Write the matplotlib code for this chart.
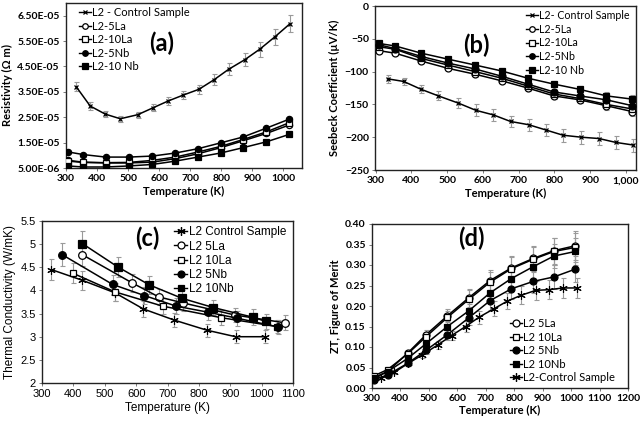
import matplotlib
matplotlib.use("Agg")
import matplotlib.pyplot as plt
from matplotlib.lines import Line2D

# ---------------- Panel (a): Resistivity (x 1e-5 Ohm m) ----------------
T_ctrl = [333, 378, 427, 475, 531, 580, 629, 677, 728, 776, 824, 875, 924, 972, 1021]
T_dop = [308, 355, 428, 502, 578, 652, 725, 798, 870, 945, 1018]

rho_ctrl = [3.70, 2.94, 2.62, 2.44, 2.60, 2.87, 3.14, 3.37, 3.60, 3.97, 4.39, 4.76, 5.18, 5.66, 6.18]
rho_ctrl_err = [0.18, 0.15, 0.12, 0.12, 0.12, 0.14, 0.15, 0.17, 0.18, 0.22, 0.24, 0.26, 0.30, 0.32, 0.34]
rho_5la = [0.80, 0.73, 0.70, 0.70, 0.73, 0.87, 1.06, 1.30, 1.57, 1.86, 2.19]
rho_10la = [0.77, 0.72, 0.71, 0.72, 0.80, 0.93, 1.13, 1.35, 1.62, 1.92, 2.28]
rho_5nb = [1.13, 1.03, 0.93, 0.93, 0.97, 1.09, 1.26, 1.49, 1.72, 2.07, 2.42]
rho_10nb = [0.58, 0.54, 0.54, 0.58, 0.64, 0.77, 0.93, 1.09, 1.30, 1.53, 1.82]
rho_dop_err = [0.05, 0.05, 0.05, 0.05, 0.05, 0.05, 0.05, 0.05, 0.06, 0.06, 0.07]
rho_yticks = [0.5, 1.5, 2.5, 3.5, 4.5, 5.5, 6.5]
rho_yticklabels = ["5.00E-06", "1.50E-05", "2.50E-05", "3.50E-05", "4.50E-05", "5.50E-05", "6.50E-05"]
a_labels = ["L2 - Control Sample", "L2-5La", "L2-10La", "L2-5Nb", "L2-10 Nb"]

# ---------------- Panel (b): Seebeck coefficient (uV/K) ----------------
S_ctrl = [-111, -115, -127, -137, -148, -159, -166, -176, -181, -189, -197, -200, -202, -208, -212]
S_ctrl_err = [6, 6, 6, 7, 8, 9, 9, 9, 9, 9, 10, 10, 10, 10, 10]
S_5la = [-68, -72, -84, -95, -104, -114, -125, -137, -143, -152, -161]
S_10la = [-62, -66, -80, -90, -100, -110, -122, -134, -141, -150, -157]
S_5nb = [-59, -65, -77, -87, -96, -107, -119, -131, -137, -143, -152]
S_10nb = [-57, -61, -72, -81, -90, -99, -110, -119, -127, -137, -142]
S_dop_err = [3, 3, 3, 3, 4, 4, 4, 5, 5, 6, 6]
b_xticks = [300, 400, 500, 600, 700, 800, 900, 1000]
b_xticklabels = ["300", "400", "500", "600", "700", "800", "900", "1,000"]
b_labels = ["L2- Control Sample", "L2-5La", "L2-10La", "L2-5Nb", "L2-10 Nb"]

# ---------------- Panel (c): Thermal conductivity (W/mK) ----------------
Tc_ctrl = [330, 428, 532, 623, 721, 826, 917, 1012]
k_ctrl = [4.45, 4.22, 3.95, 3.60, 3.36, 3.14, 3.00, 3.00]
k_ctrl_err = [0.22, 0.20, 0.18, 0.18, 0.15, 0.14, 0.14, 0.14]
Tc_5la = [429, 588, 672, 750, 914, 1074]
k_5la = [4.77, 4.16, 3.86, 3.73, 3.47, 3.30]
k_5la_err = [0.25, 0.20, 0.18, 0.17, 0.16, 0.16]
Tc_10la = [399, 532, 685, 872, 1050]
k_10la = [4.37, 3.97, 3.66, 3.41, 3.22]
k_10la_err = [0.22, 0.20, 0.17, 0.16, 0.15]
Tc_5nb = [365, 525, 626, 728, 829, 922, 1053]
k_5nb = [4.77, 4.13, 3.89, 3.66, 3.53, 3.40, 3.21]
k_5nb_err = [0.25, 0.20, 0.18, 0.17, 0.16, 0.16, 0.15]
Tc_10nb = [429, 541, 642, 746, 846, 973, 1013]
k_10nb = [5.01, 4.51, 4.12, 3.83, 3.63, 3.42, 3.33]
k_10nb_err = [0.27, 0.22, 0.20, 0.18, 0.17, 0.17, 0.17]
c_labels = ["L2 Control Sample", "L2 5La", "L2 10La", "L2 5Nb", "L2 10Nb"]

# ---------------- Panel (d): ZT ----------------
Td = [308, 355, 425, 490, 565, 640, 715, 790, 867, 940, 1015]
zt_5la = [0.025, 0.040, 0.085, 0.130, 0.176, 0.220, 0.262, 0.293, 0.316, 0.335, 0.347]
zt_10la = [0.030, 0.045, 0.083, 0.125, 0.172, 0.216, 0.258, 0.291, 0.314, 0.333, 0.343]
zt_la_err = [0.004, 0.006, 0.008, 0.012, 0.016, 0.022, 0.026, 0.028, 0.030, 0.032, 0.035]
zt_5nb = [0.020, 0.032, 0.060, 0.092, 0.130, 0.171, 0.213, 0.242, 0.260, 0.271, 0.290]
zt_10nb = [0.025, 0.040, 0.072, 0.108, 0.150, 0.188, 0.232, 0.267, 0.296, 0.322, 0.333]
zt_nb_err = [0.004, 0.005, 0.007, 0.010, 0.014, 0.018, 0.022, 0.025, 0.028, 0.030, 0.032]
zt_ctrl = [0.025, 0.038, 0.060, 0.080, 0.105, 0.128, 0.150, 0.173, 0.193, 0.212, 0.226, 0.238, 0.240, 0.244, 0.244]
zt_ctrl_err = [0.004, 0.005, 0.006, 0.008, 0.010, 0.012, 0.014, 0.016, 0.018, 0.020, 0.022, 0.023, 0.024, 0.024, 0.025]
d_labels = ["L2 5La", "L2 10La", "L2 5Nb", "L2 10Nb", "L2-Control Sample"]

# ---------------- styling ----------------
BF = "Lato"             # Calibri-like
AF = "Liberation Sans"  # Arial-like
ECOL = "#9a9a9a"

fig = plt.figure(figsize=(6.41, 4.22), dpi=100)


def style(ax, family, bold, size=7.5):
    w = "bold" if bold else "normal"
    for s in ax.spines.values():
        s.set_color("#222222")
        s.set_linewidth(1.0)
    ax.tick_params(direction="out", length=2.5, width=0.6, color="#666666", labelsize=size, pad=2)
    for lab in ax.get_xticklabels() + ax.get_yticklabels():
        lab.set_fontfamily(family)
        lab.set_fontweight(w)
        lab.set_fontsize(size)


def series(ax, x, y, err, marker, face, ms, mew=0.9, lw=1.1):
    ax.errorbar(x, y, yerr=err, fmt="none", ecolor=ECOL, elinewidth=0.8, capsize=1.8, capthick=0.8, zorder=2)
    ax.plot(x, y, color="black", lw=lw, marker=marker, ms=ms, mfc=face, mec="black", mew=mew, zorder=3)


def handle(marker, face, ms):
    return Line2D([], [], color="black", lw=1.0, marker=marker, ms=ms, mfc=face, mec="black", mew=0.9)


star = (6, 2, 0)

# ---- (a)
axa = fig.add_axes([66 / 641, 1 - 168 / 422, 236 / 641, 165 / 422])
series(axa, T_ctrl, rho_ctrl, rho_ctrl_err, "x", "black", 3.5)
series(axa, T_dop, rho_5la, rho_dop_err, "o", "white", 4.5)
series(axa, T_dop, rho_10la, rho_dop_err, "s", "white", 4.5)
series(axa, T_dop, rho_5nb, rho_dop_err, "o", "black", 4.5)
series(axa, T_dop, rho_10nb, rho_dop_err, "s", "black", 4.5)
axa.set_xlim(300, 1060)
axa.set_ylim(0.5, 7.0)
axa.set_xticks([300, 400, 500, 600, 700, 800, 900, 1000])
axa.set_yticks(rho_yticks)
axa.set_yticklabels(rho_yticklabels)
style(axa, BF, True)
axa.set_xlabel("Temperature (K)", family=BF, weight="bold", fontsize=8, labelpad=2)
axa.set_ylabel("Resistivity (Ω m)", family=BF, weight="bold", fontsize=8, labelpad=3)
axa.text(0.405, 0.755, "(a)", transform=axa.transAxes, family=BF, weight="bold", fontsize=17, ha="center", va="center")
ha = [handle("x", "black", 3.5), handle("o", "white", 4), handle("s", "white", 4),
      handle("o", "black", 4), handle("s", "black", 4)]
axa.legend(ha, a_labels, loc="upper left", bbox_to_anchor=(0.025, 1.015), frameon=False,
           prop={"family": BF, "size": 8}, handlelength=1.1, handletextpad=0.1, labelspacing=0.22,
           borderaxespad=0.2)

# ---- (b)
axb = fig.add_axes([375 / 641, 1 - 170 / 422, 261 / 641, 164 / 422])
series(axb, T_ctrl, S_ctrl, S_ctrl_err, "x", "black", 3.5)
series(axb, T_dop, S_5la, S_dop_err, "o", "white", 5)
series(axb, T_dop, S_10la, S_dop_err, "s", "white", 5)
series(axb, T_dop, S_5nb, S_dop_err, "o", "black", 5)
series(axb, T_dop, S_10nb, S_dop_err, "s", "black", 5)
axb.set_xlim(298, 1028)
axb.set_ylim(-250, 0)
axb.set_xticks(b_xticks)
axb.set_xticklabels(b_xticklabels)
axb.set_yticks([-250, -200, -150, -100, -50, 0])
style(axb, BF, True)
axb.set_xlabel("Temperature (K)", family=BF, weight="bold", fontsize=8, labelpad=2)
axb.set_ylabel("Seebeck Coefficient (µV/K)", family=BF, weight="bold", fontsize=8, labelpad=3)
axb.text(0.39, 0.76, "(b)", transform=axb.transAxes, family=BF, weight="bold", fontsize=17, ha="center", va="center")
hb = [handle("x", "black", 3.5), handle("o", "white", 4), handle("s", "white", 4),
      handle("o", "black", 4), handle("s", "black", 4)]
axb.legend(hb, b_labels, loc="upper right", bbox_to_anchor=(1.0, 1.015), frameon=False,
           prop={"family": BF, "size": 7.7}, handlelength=1.1, handletextpad=0.1, labelspacing=0.25,
           borderaxespad=0.2)

# ---- (c)
axc = fig.add_axes([42 / 641, 1 - 383 / 422, 251 / 641, 162 / 422])
series(axc, Tc_ctrl, k_ctrl, k_ctrl_err, star, "black", 6, mew=0.8)
series(axc, Tc_5la, k_5la, k_5la_err, "o", "white", 5.5)
series(axc, Tc_10la, k_10la, k_10la_err, "s", "white", 5)
series(axc, Tc_5nb, k_5nb, k_5nb_err, "o", "black", 5.5)
series(axc, Tc_10nb, k_10nb, k_10nb_err, "s", "black", 5.5)
axc.set_xlim(300, 1100)
axc.set_ylim(2, 5.5)
axc.set_xticks(range(300, 1101, 100))
axc.set_yticks([2, 2.5, 3, 3.5, 4, 4.5, 5, 5.5])
axc.set_yticklabels(["2", "2.5", "3", "3.5", "4", "4.5", "5", "5.5"])
style(axc, AF, False, size=8)
axc.set_xlabel("Temperature (K)", family=AF, fontsize=8.5, labelpad=2)
axc.set_ylabel("Thermal Conductivity (W/mK)", family=AF, fontsize=8.5, labelpad=3)
axc.text(0.42, 0.895, "(c)", transform=axc.transAxes, family=BF, weight="bold", fontsize=17, ha="center", va="center")
hc = [handle(star, "black", 6), handle("o", "white", 5), handle("s", "white", 5),
      handle("o", "black", 5), handle("s", "black", 5)]
axc.legend(hc, c_labels, loc="upper right", bbox_to_anchor=(1.0, 1.01), frameon=False,
           prop={"family": AF, "size": 8.5}, handlelength=1.1, handletextpad=0.1, labelspacing=0.18,
           borderaxespad=0.2)

# ---- (d)
axd = fig.add_axes([372 / 641, 1 - 388 / 422, 256 / 641, 164 / 422])
series(axd, T_ctrl, zt_ctrl, zt_ctrl_err, star, "black", 6, mew=0.8)
series(axd, Td, zt_5la, zt_la_err, "o", "white", 5)
series(axd, Td, zt_10la, zt_la_err, "s", "white", 5)
series(axd, Td, zt_5nb, zt_nb_err, "o", "black", 5)
series(axd, Td, zt_10nb, zt_nb_err, "s", "black", 5)
axd.set_xlim(300, 1200)
axd.set_ylim(0, 0.4)
axd.set_xticks(range(300, 1201, 100))
axd.set_yticks([0, 0.05, 0.10, 0.15, 0.20, 0.25, 0.30, 0.35, 0.40])
axd.set_yticklabels(["0.00", "0.05", "0.10", "0.15", "0.20", "0.25", "0.30", "0.35", "0.40"])
style(axd, BF, True)
axd.set_xlabel("Temperature (K)", family=BF, weight="bold", fontsize=8, labelpad=1)
axd.set_ylabel("ZT, Figure of Merit", family=BF, weight="bold", fontsize=8, labelpad=3)
axd.text(0.39, 0.915, "(d)", transform=axd.transAxes, family=BF, weight="bold", fontsize=17, ha="center", va="center")
hd = [handle("o", "white", 5), handle("s", "white", 5), handle("o", "black", 5),
      handle("s", "black", 5), handle(star, "black", 6)]
axd.legend(hd, d_labels, loc="lower right", bbox_to_anchor=(0.975, -0.01), frameon=False,
           prop={"family": BF, "size": 8}, handlelength=1.1, handletextpad=0.1, labelspacing=0.22,
           borderaxespad=0.2)

fig.savefig("out.png", dpi=100)
